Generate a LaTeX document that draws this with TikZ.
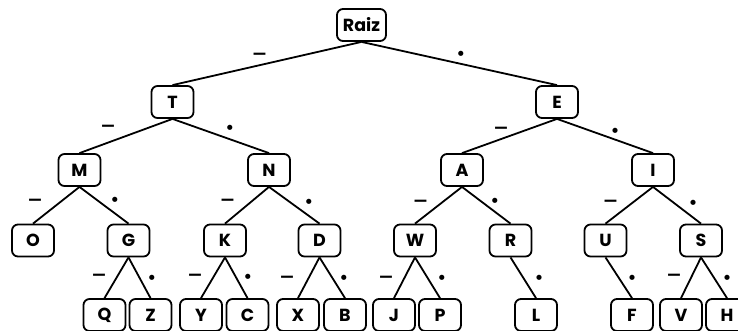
\documentclass[tikz,border=0pt]{standalone}
\usepackage{fontspec}
\setmainfont{Poppins}
\begin{document}
\begin{tikzpicture}[x=1pt,y=-1pt,
  letter/.style={draw=black, line width=1.8pt, rounded corners=6pt,
    minimum width=42pt, minimum height=32pt, inner sep=0pt,
    font=\fontsize{17.5}{17.5}\selectfont\bfseries},
  link/.style={line width=1.8pt},
  dashlbl/.style={inner sep=0pt, font=\fontsize{15}{15}\selectfont\bfseries},
  dotlbl/.style={inner sep=0pt, font=\fontsize{17}{17}\selectfont\bfseries}]
\useasboundingbox (0,0) rectangle (738,330);
\clip (0,0) rectangle (738,330);

% level 0 and 1
\node[letter, minimum width=49pt] (raiz) at (361.5,25) {Raiz};
\node[letter] (T) at (172.5,102) {T};
\node[letter] (E) at (557,102) {E};
% level 2
\node[letter] (M) at (79.5,170) {M};
\node[letter] (N) at (269,170) {N};
\node[letter] (A) at (462,170) {A};
\node[letter] (I) at (653,170) {I};
% level 3
\node[letter] (O) at (33,240.5) {O};
\node[letter] (G) at (128.5,240.5) {G};
\node[letter] (K) at (225,240.5) {K};
\node[letter] (D) at (319.5,240.5) {D};
\node[letter] (W) at (415,240.5) {W};
\node[letter] (R) at (510.5,240.5) {R};
\node[letter] (U) at (605.5,240.5) {U};
\node[letter] (S) at (701,240.5) {S};
% level 4
\node[letter] (Q) at (104.5,315) {Q};
\node[letter] (Z) at (150.5,315) {Z};
\node[letter] (Y) at (201,315) {Y};
\node[letter] (C) at (247.5,315) {C};
\node[letter] (X) at (298,315) {X};
\node[letter] (B) at (345,315) {B};
\node[letter] (J) at (394,315) {J};
\node[letter] (P) at (440,315) {P};
\node[letter] (L) at (536,315) {L};
\node[letter] (F) at (632,315) {F};
\node[letter] (V) at (681,315) {V};
\node[letter] (H) at (727,315) {H};

% branches
\foreach \p/\c in {raiz/T, raiz/E, T/M, T/N, E/A, E/I,
    M/O, M/G, N/K, N/D, A/W, A/R, I/U, I/S,
    G/Q, G/Z, K/Y, K/C, D/X, D/B, W/J, W/P, R/L, U/F, S/V, S/H}
  \draw[link] (\p.south) -- (\c.north);

% morse symbols on the branches
\node[dashlbl] (s1) at (259.5,56) {—};
\node[dotlbl] (s2) at (461,55) {•};
\node[dashlbl] (s3) at (108,128) {—};
\node[dotlbl] (s4) at (230,129) {•};
\node[dashlbl] (s5) at (501,130) {—};
\node[dotlbl] (s6) at (615,132) {•};
\node[dashlbl] (s7) at (35,202) {—};
\node[dotlbl] (s8) at (115,201) {•};
\node[dashlbl] (s9) at (227.5,202) {—};
\node[dotlbl] (s10) at (309,203) {•};
\node[dashlbl] (s11) at (420.5,203) {—};
\node[dotlbl] (s12) at (495,202) {•};
\node[dashlbl] (s13) at (610.5,203) {—};
\node[dotlbl] (s14) at (693,204) {•};
\node[dashlbl] (s15) at (99,277) {—};
\node[dotlbl] (s16) at (152,279) {•};
\node[dashlbl] (s17) at (195,277) {—};
\node[dotlbl] (s18) at (248,278) {•};
\node[dashlbl] (s19) at (287,279) {—};
\node[dotlbl] (s20) at (344,279) {•};
\node[dashlbl] (s21) at (386,279) {—};
\node[dotlbl] (s22) at (442,279) {•};
\node[dotlbl] (s23) at (539,279) {•};
\node[dotlbl] (s24) at (632,279) {•};
\node[dashlbl] (s25) at (674,277) {—};
\node[dotlbl] (s26) at (727,279) {•};
\end{tikzpicture}
\end{document}
